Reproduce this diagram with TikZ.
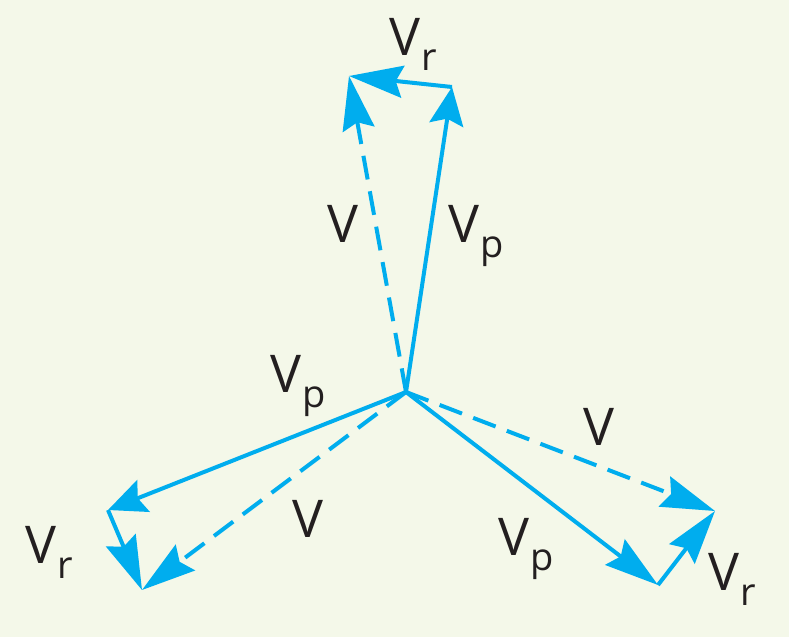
\documentclass[tikz,border=0pt]{standalone}
\usepackage{fontspec}
\setmainfont{Open Sans}
\usepackage{tikz}
\usetikzlibrary{positioning}
\usetikzlibrary{arrows.meta}
\definecolor{vcyan}{RGB}{0,173,238}
\definecolor{paper}{RGB}{244,248,233}
\definecolor{ink}{RGB}{35,31,32}
\newcommand{\vsub}[1]{V\kern1pt\raisebox{-15pt}{\fontsize{38}{38}\selectfont #1}}
\tikzset{vec/.style={draw=vcyan,line width=4pt,-{Stealth[length=54pt,width=32pt,inset=7pt]}},
  short vec/.style={vec,-{Stealth[length=38pt,width=34pt,inset=6pt]}},
  res vec/.style={vec,dash pattern=on 24pt off 12pt},
  lbl/.style={text=ink,font=\fontsize{52}{52}\selectfont,inner sep=0pt,anchor=base west},}

\begin{document}
\begin{tikzpicture}[x=1pt,y=-1pt]
	\fill[paper] (0,0) rectangle (789,637);
	\coordinate (o) at (406,392);
	\coordinate (p1) at (452,87);
	\coordinate (v1) at (349,76);
	\coordinate (p2) at (108,510);
	\coordinate (v2) at (142,590);
	\coordinate (p3) at (658,585);
	\coordinate (v3) at (715,511);

	\path
	(o) edge [short vec] (p1)
	(p1) edge [vec] (v1)
	(o) edge [res vec] (v1)
	(o) edge [short vec] (p2)
	(p2) edge [vec] (v2)
	(o) edge [res vec] (v2)
	(o) edge [vec] (p3)
	(p3) edge [vec] (v3)
	(o) edge [res vec] (v3);

	\node[lbl] (r1) at (389,55) {\vsub{r}};
	\node[lbl] (a1) at (327,242) {V};
	\node[lbl] (b1) at (448,242) {\vsub{p}};
	\node[lbl] (b2) at (270,392) {\vsub{p}};
	\node[lbl] (a2) at (292,537) {V};
	\node[lbl] (r2) at (25,563) {\vsub{r}};
	\node[lbl] (a3) at (583,445) {V};
	\node[lbl] (b3) at (498,555) {\vsub{p}};
	\node[lbl] (r3) at (708,590) {\vsub{r}};
\end{tikzpicture}
\end{document}
